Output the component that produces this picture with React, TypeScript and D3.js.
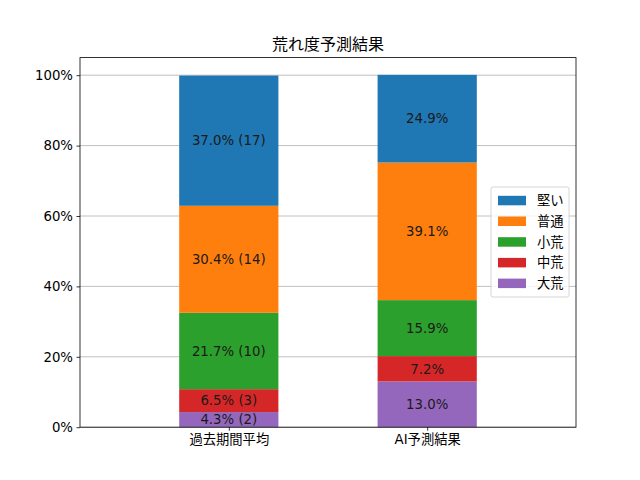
import { useEffect, useRef } from 'react';
import * as d3 from 'd3';

const categories = ["過去期間平均", "AI予測結果"];
const seriesNames = ["大荒", "中荒", "小荒", "普通", "堅い"];
const seriesColors = ["#9467bd", "#d62728", "#2ca02c", "#ff7f0e", "#1f77b4"];
const pastValues = [4.3, 6.5, 21.7, 30.4, 37.0];
const pastCounts = [2, 3, 10, 14, 17];
const aiValues = [13.0, 7.2, 15.9, 39.1, 24.9];
const yTicks = [0, 20, 40, 60, 80, 100];

const W = 640;
const H = 480;
const FONT = "'DejaVu Sans', 'Noto Sans CJK JP', sans-serif";

export default function App() {
    const svgRef = useRef<SVGSVGElement>(null);

    useEffect(() => {
        if (!svgRef.current) return;
        const svg = d3.select(svgRef.current);
        svg.selectAll("*").remove();

        const margin = { top: 57.6, right: 64, bottom: 52.8, left: 80 };
        const cw = W - margin.left - margin.right;
        const ch = H - margin.top - margin.bottom;

        const x = d3.scaleLinear().domain([-0.75, 1.75]).range([0, cw]);
        const y = d3.scaleLinear().domain([0, 105]).range([ch, 0]);
        const barW = x(0.5) - x(0);

        svg.append("rect").attr("width", W).attr("height", H).attr("fill", "white");

        const g = svg.append("g").attr("transform", `translate(${margin.left},${margin.top})`);

        // grid behind bars
        g.append("g")
            .selectAll("line")
            .data(yTicks)
            .enter()
            .append("line")
            .attr("x1", 0)
            .attr("x2", cw)
            .attr("y1", d => y(d))
            .attr("y2", d => y(d))
            .attr("stroke", "#b0b0b0")
            .attr("stroke-width", 0.8);

        const rows = [
            { values: pastValues, counts: pastCounts as (number[] | null) },
            { values: aiValues, counts: null },
        ];

        rows.forEach((row, ci) => {
            let base = 0;
            row.values.forEach((v, si) => {
                const x0 = x(ci) - barW / 2;
                g.append("rect")
                    .attr("x", x0)
                    .attr("y", y(base + v))
                    .attr("width", barW)
                    .attr("height", y(base) - y(base + v))
                    .attr("fill", seriesColors[si]);
                const label = row.counts
                    ? `${v.toFixed(1)}% (${row.counts[si]})`
                    : `${v.toFixed(1)}%`;
                g.append("text")
                    .attr("x", x(ci))
                    .attr("y", y(base + v / 2))
                    .attr("dy", "0.36em")
                    .attr("text-anchor", "middle")
                    .attr("font-family", FONT)
                    .attr("font-size", "13.3px")
                    .attr("fill", "#1a1a1a")
                    .text(label);
                base += v;
            });
        });

        // frame
        g.append("rect")
            .attr("width", cw)
            .attr("height", ch)
            .attr("fill", "none")
            .attr("stroke", "black")
            .attr("stroke-width", 0.8);

        // y axis
        const yAxis = g.append("g")
            .call(d3.axisLeft(y).tickValues(yTicks).tickSize(3.5).tickPadding(3.5).tickFormat(d => `${d}%`));
        yAxis.select(".domain").remove();
        yAxis.selectAll("line").attr("stroke-width", 0.8);
        yAxis.selectAll("text")
            .attr("font-family", FONT)
            .attr("font-size", "13.3px")
            .attr("fill", "black");

        // x axis
        const xAxis = g.append("g")
            .attr("transform", `translate(0,${ch})`)
            .call(d3.axisBottom(x).tickValues([0, 1]).tickSize(3.5).tickPadding(3.5).tickFormat((d, i) => categories[i]));
        xAxis.select(".domain").remove();
        xAxis.selectAll("line").attr("stroke-width", 0.8);
        xAxis.selectAll("text")
            .attr("font-family", FONT)
            .attr("font-size", "13.3px")
            .attr("fill", "black");

        // title
        svg.append("text")
            .attr("x", margin.left + cw / 2)
            .attr("y", margin.top - 8)
            .attr("text-anchor", "middle")
            .attr("font-family", FONT)
            .attr("font-size", "16px")
            .attr("fill", "black")
            .text("荒れ度予測結果");

        // legend (top entry = last series)
        const legendOrder = d3.range(seriesNames.length).reverse();
        const lg = svg.append("g").attr("transform", "translate(491,187)");
        lg.append("rect")
            .attr("width", 78)
            .attr("height", 110)
            .attr("rx", 2)
            .attr("fill", "white")
            .attr("fill-opacity", 0.8)
            .attr("stroke", "#cccccc")
            .attr("stroke-width", 0.8);
        legendOrder.forEach((si, k) => {
            const cy = 13.5 + k * 20.7;
            lg.append("rect")
                .attr("x", 7)
                .attr("y", cy - 4.7)
                .attr("width", 28)
                .attr("height", 9.5)
                .attr("fill", seriesColors[si]);
            lg.append("text")
                .attr("x", 46)
                .attr("y", cy)
                .attr("dy", "0.36em")
                .attr("font-family", FONT)
                .attr("font-size", "13.3px")
                .attr("fill", "black")
                .text(seriesNames[si]);
        });
    }, []);

    return <svg ref={svgRef} width={W} height={H} style={{ display: "block", margin: -8 }} />;
}
